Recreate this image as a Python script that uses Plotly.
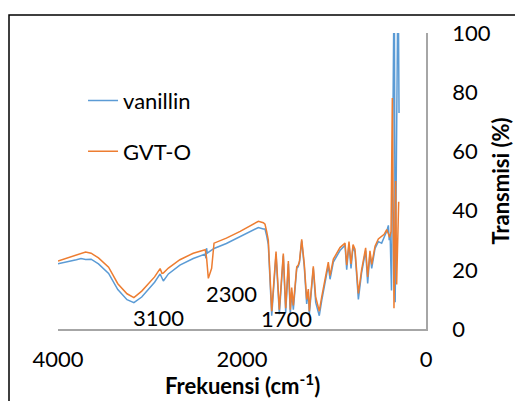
import plotly.graph_objects as go

# ---------------- data ----------------
wn_gvt = [4000, 3900, 3800, 3750, 3700, 3640, 3560, 3450, 3350, 3250, 3175, 3090, 3020, 2950,
          2890, 2870, 2855, 2800, 2675, 2530, 2400, 2385, 2366, 2350, 2330, 2304, 2170, 2020,
          1880, 1822, 1768, 1750, 1732, 1714, 1677, 1630, 1594, 1551, 1525, 1496, 1475, 1460,
          1442, 1425, 1405, 1390, 1375, 1351, 1323, 1297, 1279, 1268, 1225, 1199, 1160, 1134,
          1098, 1062, 1043, 1007, 935, 880, 862, 837, 815, 793, 772, 735, 700, 656, 634, 609,
          590, 554, 518, 482, 455, 427, 416, 395, 380, 366, 348, 330, 319, 297]
t_gvt = [23.0, 24.0, 25.2, 25.6, 26.0, 25.6, 24.0, 20.9, 15.3, 11.9, 10.6, 12.8, 15.1, 17.6,
         20.4, 18.8, 18.9, 20.6, 23.4, 25.6, 26.8, 24.0, 17.1, 18.8, 20.5, 29.0, 30.7, 33.0,
         35.3, 36.4, 35.9, 35.4, 33.0, 30.0, 6.0, 26.2, 6.5, 25.5, 7.0, 23.0, 6.5, 14.0,
         8.0, 13.0, 21.0, 21.5, 23.0, 30.3, 22.0, 10.0, 13.5, 6.0, 21.2, 10.8, 6.0, 10.8,
         16.4, 22.6, 18.0, 23.6, 27.5, 29.0, 21.6, 29.5, 22.0, 28.5, 27.0, 12.0, 20.0, 27.4,
         17.6, 26.4, 21.8, 28.0, 30.4, 31.5, 32.0, 33.6, 32.5, 31.0, 33.0, 78.0, 7.0, 50.0,
         15.0, 43.0]

wn_van = [4000, 3900, 3800, 3750, 3700, 3640, 3560, 3450, 3350, 3250, 3175, 3090, 3020, 2950,
          2890, 2870, 2855, 2800, 2675, 2530, 2400, 2392, 2385, 2378, 2304, 2170, 2020,
          1880, 1822, 1768, 1750, 1732, 1714, 1677, 1630, 1594, 1551, 1525, 1496, 1475, 1460,
          1442, 1425, 1405, 1390, 1375, 1351, 1323, 1297, 1279, 1268, 1225, 1199, 1160, 1134,
          1098, 1062, 1043, 1007, 935, 880, 862, 837, 815, 793, 772, 735, 700, 656, 634, 609,
          590, 554, 518, 482, 455, 427, 409, 400, 390, 375, 345, 335, 303, 293]
t_van = [22.0, 22.6, 23.4, 23.8, 23.5, 23.6, 22.0, 18.8, 13.3, 9.9, 8.9, 10.8, 13.3, 15.8,
         18.6, 16.8, 16.2, 18.6, 21.6, 23.8, 25.3, 23.9, 27.3, 25.6, 27.2, 28.9, 31.2,
         33.5, 34.3, 33.8, 33.8, 31.5, 28.5, 4.5, 25.3, 5.0, 24.8, 5.5, 22.0, 5.0, 12.5,
         6.5, 12.0, 20.5, 21.0, 22.5, 29.8, 21.0, 8.5, 12.5, 5.0, 20.5, 9.0, 4.5, 9.5,
         15.0, 21.5, 16.8, 22.6, 26.5, 28.3, 20.0, 28.7, 20.5, 27.8, 26.0, 10.0, 19.0, 26.5,
         15.4, 25.6, 20.5, 27.2, 29.5, 29.0, 31.0, 33.0, 35.0, 30.0, 32.0, 13.0, 125.0, 9.0,
         125.0, 73.0]

x_ticks = [4000, 2000, 0]
y_ticks = [0, 20, 40, 60, 80, 100]
peak_labels = ["3100", "2300", "1700"]
peak_label_x = [2910, 2110, 1520]
peak_label_y = [4.0, 12.0, 3.4]
x_title = "<b>Frekuensi (cm<sup>-1</sup>)</b>"
y_title = "<b>Transmisi (%)</b>"

FONT = "Lato"
BLUE = "#5B9BD5"
ORANGE = "#ED7D31"
FS = 22

fig = go.Figure()
fig.add_trace(go.Scatter(x=wn_van, y=t_van, mode="lines", name="vanillin",
                         line=dict(color=BLUE, width=1.5), legendgroup="a"))
fig.add_trace(go.Scatter(x=wn_gvt, y=t_gvt, mode="lines", name="GVT-O",
                         line=dict(color=ORANGE, width=1.5), legendgroup="b"))

for txt, xv, yv in zip(peak_labels, peak_label_x, peak_label_y):
    fig.add_annotation(x=xv, y=yv, text=txt, showarrow=False, xref="x", yref="y",
                       font=dict(family=FONT, size=FS, color="black"))

# x-axis title as a paper annotation (centred under the plot)
fig.add_annotation(x=0.5, y=(329 - 384) / 296, xref="paper", yref="paper",
                   text=x_title, showarrow=False, xanchor="center", yanchor="middle",
                   font=dict(family=FONT, size=22, color="black"))

# outer frame
fig.add_shape(type="rect", xref="paper", yref="paper",
              x0=(9 - 58) / 368, x1=(530 - 58) / 368,
              y0=(329 - 420) / 296, y1=(329 - 15) / 296,
              line=dict(color="black", width=1.5), layer="below")

fig.update_layout(
    width=515, height=401,
    margin=dict(l=58, r=89, t=33, b=72, autoexpand=False),
    paper_bgcolor="white", plot_bgcolor="white",
    font=dict(family=FONT, size=FS, color="black"),
    showlegend=True,
    legend=dict(x=0.068, y=0.842, xanchor="left", yanchor="top",
                bgcolor="rgba(0,0,0,0)", tracegroupgap=19,
                font=dict(family=FONT, size=FS, color="black")),
    xaxis=dict(range=[4000, 0], tickvals=x_ticks, ticks="", showgrid=False,
               zeroline=False, showline=True, linecolor="#A6A6A6", linewidth=1.5,
               ticklabelstandoff=10, automargin=False,
               tickfont=dict(family=FONT, size=FS, color="black")),
    yaxis=dict(range=[0, 100], tickvals=y_ticks, ticks="", showgrid=False,
               zeroline=False, showline=True, linecolor="#A6A6A6", linewidth=1.5,
               side="right", ticklabelstandoff=20, automargin=False,
               tickfont=dict(family=FONT, size=FS, color="black"),
               title=dict(text=y_title, standoff=4,
                          font=dict(family=FONT, size=22, color="black"))),
)

fig.write_html("out.html")
